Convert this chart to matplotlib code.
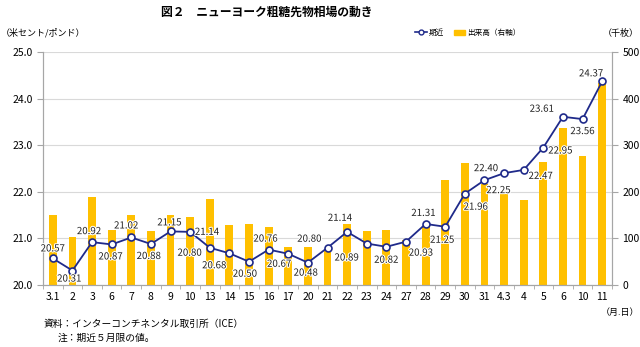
import numpy as np
import matplotlib.pyplot as plt
import matplotlib.patheffects as pe
from matplotlib.lines import Line2D
from matplotlib.patches import Patch

plt.rcParams['font.family'] = ['Noto Sans CJK JP', 'DejaVu Sans']

# 日付（月.日）
dates = ['3.1', '2', '3', '6', '7', '8', '9', '10', '13', '14', '15', '16', '17', '20',
         '21', '22', '23', '24', '27', '28', '29', '30', '31', '4.3', '4', '5', '6', '10', '11']
# 期近（米セント/ポンド）
price = [20.57, 20.31, 20.92, 20.87, 21.02, 20.88, 21.15, 21.14, 20.80, 20.68, 20.50, 20.76,
         20.67, 20.48, 20.80, 21.14, 20.89, 20.82, 20.93, 21.31, 21.25, 21.96, 22.25, 22.40,
         22.47, 22.95, 23.61, 23.56, 24.37]
# 出来高（千枚）
volume = [150, 104, 188, 119, 151, 115, 151, 146, 185, 128, 131, 124, 82, 82,
          78, 130, 115, 118, 96, 124, 226, 261, 217, 200, 183, 265, 337, 276, 433]

# ラベル位置 (dx, dy) ピクセル単位
label_pos = [(0, 10), (-3, -8), (-3, 11), (-1, -12), (-5, 12), (-2, -12), (-1, 9), (17, 0),
             (-20, -5), (-15, -12), (-4, -12), (-3, 11), (-9, -10), (-2, -10), (-18, 9),
             (-7, 14), (-20, -14), (0, -13), (15, -11), (-2, 11), (-3, -13), (11, -13),
             (14, -10), (-18, 5), (17, -6), (17, -3), (-21, 8), (0, -12), (-11, 8)]

fig = plt.figure(figsize=(6.4, 3.47), dpi=100)
ax = fig.add_axes([43 / 640, 1 - 285 / 347, (612 - 43) / 640, (285 - 52) / 347])
ax2 = ax.twinx()

x = np.arange(len(dates))
ax2.bar(x, volume, width=0.4, color='#FFC000', zorder=1)
ax2.set_ylim(0, 500)
ax2.set_yticks(np.arange(0, 501, 100))

ax.set_zorder(ax2.get_zorder() + 1)
ax.patch.set_visible(False)
ax.plot(x, price, color='#1F2A8A', lw=1.3, marker='o', ms=5,
        mfc='white', mec='#1F2A8A', mew=1.2, zorder=3)
ax.set_ylim(20, 25)
ax.set_yticks(np.arange(20, 25.01, 1.0))
ax.set_yticklabels([f'{v:.1f}' for v in np.arange(20, 25.01, 1.0)])
ax.set_xlim(-0.5, len(dates) - 0.5)
ax2.yaxis.grid(True, color='#D9D9D9', lw=0.8)
ax2.set_axisbelow(True)

for i, v in enumerate(price):
    dx, dy = label_pos[i]
    ax.annotate(f'{v:.2f}', (i, v), xytext=(dx, dy), textcoords='offset pixels',
                ha='center', va='center', fontsize=7, color='#222222', zorder=4,
                path_effects=[pe.withStroke(linewidth=1.5, foreground='white')])

ax.set_xticks(x)
ax.set_xticklabels(dates)
ax.set_xticks(np.arange(-0.5, len(dates), 1), minor=True)
ax.tick_params(axis='x', which='major', length=0, labelsize=7.5, pad=5)
ax.tick_params(axis='x', which='minor', length=3, color='#A6A6A6')
ax.tick_params(axis='y', labelsize=7.5, length=4, color='#A6A6A6')
ax2.tick_params(axis='y', labelsize=7.5, length=4, color='#A6A6A6')
for a in (ax, ax2):
    a.spines['top'].set_visible(False)
    for s in ('left', 'right', 'bottom'):
        a.spines[s].set_color('#A6A6A6')

fig.text(267 / 640, 1 - 12 / 347, '図２　ニューヨーク粗糖先物相場の動き', ha='center', va='center',
         fontsize=8.5, fontweight='bold')
fig.text(1 / 640, 1 - 33 / 347, '（米セント/ポンド）', ha='left', va='center', fontsize=6.5)
fig.text(639 / 640, 1 - 33 / 347, '（千枚）', ha='right', va='center', fontsize=6.5)
fig.text(639 / 640, 1 - 312 / 347, '（月.日）', ha='right', va='center', fontsize=6.5)
fig.text(44 / 640, 1 - 324 / 347, '資料：インターコンチネンタル取引所（ICE）', ha='left', va='center', fontsize=7)
fig.text(58 / 640, 1 - 338 / 347, '注：期近５月限の値。', ha='left', va='center', fontsize=7)

handles = [Line2D([], [], color='#1F2A8A', lw=1.2, marker='o', ms=3.5, mfc='white', mec='#1F2A8A'),
           Patch(color='#FFC000')]
fig.legend(handles, ['期近', '出来高（右軸）'], loc='center', bbox_to_anchor=(468 / 640, 1 - 33 / 347),
           ncol=2, frameon=False, fontsize=5.5, handlelength=1.5, columnspacing=1.2, handletextpad=0.3)

fig.savefig('out.png', dpi=100)
